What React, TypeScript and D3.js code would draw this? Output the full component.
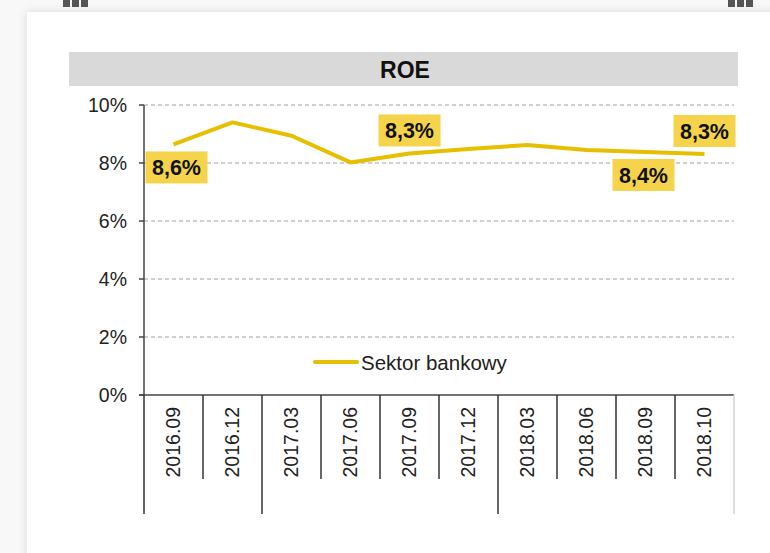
import React from "react";
import * as d3 from "d3";

const categories = [
  "2016.09", "2016.12", "2017.03", "2017.06", "2017.09",
  "2017.12", "2018.03", "2018.06", "2018.09", "2018.10",
];
const roeValues = [8.64, 9.4, 8.94, 8.02, 8.33, 8.48, 8.62, 8.45, 8.38, 8.31];
const yTicks = [0, 2, 4, 6, 8, 10];
// index into categories, label text, above/below the line
const labelIndex = [0, 4, 8, 9];
const labelText = ["8,6%", "8,3%", "8,4%", "8,3%"];
const labelSide = ["below", "above", "below", "above"];
// boundaries where a new year starts (long separators)
const yearStarts = [0, 2, 6];
const seriesName = "Sektor bankowy";
const title = "ROE";

const W = 770;
const H = 553;
const FONT = "Arial, 'Liberation Sans', sans-serif";

const App = () => {
  const left = 144;
  const right = 734;
  const top = 105;
  const bottom = 395;

  const x = d3.scaleBand<string>().domain(categories).range([left, right]).padding(0);
  const y = d3.scaleLinear().domain([0, 10]).range([bottom, top]);

  const line = d3
    .line<number>()
    .x((_, i) => x(categories[i])! + x.bandwidth() / 2)
    .y((d) => y(d));

  const boundaries = categories.map((c) => x(c)!);

  return (
    <svg
      width={W}
      height={H}
      style={{ position: "fixed", left: 0, top: 0 }}
      fontFamily={FONT}
    >
      <defs>
        <filter id="shadow" x="-10%" y="-10%" width="120%" height="120%">
          <feDropShadow dx="0" dy="0" stdDeviation="5" floodColor="#000" floodOpacity="0.12" />
        </filter>
      </defs>
      <rect width={W} height={H} fill="#f8f8f8" />
      {/* binder clips */}
      {[63, 728].map((bx) => (
        <g key={bx}>
          {[0, 9, 18].map((o) => (
            <rect key={o} x={bx + o} y={0} width={7} height={7} fill="#555" />
          ))}
        </g>
      ))}
      <rect x={27} y={12} width={W} height={H} fill="#fff" filter="url(#shadow)" />

      {/* title band */}
      <rect x={69} y={52} width={669} height={34} fill="#d9d9d9" />
      <text x={405} y={78} textAnchor="middle" fontSize={23} fontWeight="bold" fill="#111">
        {title}
      </text>

      {/* gridlines */}
      {yTicks
        .filter((t) => t > 0)
        .map((t) => (
          <line
            key={t}
            x1={left}
            x2={right}
            y1={y(t)}
            y2={y(t)}
            stroke="#a0a0a0"
            strokeWidth={1}
            strokeDasharray="4,3"
          />
        ))}

      {/* y axis */}
      <line x1={left} x2={left} y1={top} y2={bottom} stroke="#444" strokeWidth={1.5} />
      {yTicks.map((t) => (
        <g key={t}>
          <line x1={left - 5} x2={left} y1={y(t)} y2={y(t)} stroke="#444" strokeWidth={1.5} />
          <text x={127} y={y(t) + 7} textAnchor="end" fontSize={19.5} fill="#222">
            {t}%
          </text>
        </g>
      ))}

      {/* x axis */}
      <line x1={left - 5} x2={right} y1={bottom} y2={bottom} stroke="#444" strokeWidth={1.5} />
      {boundaries.map((bx, i) => (
        <line
          key={i}
          x1={bx}
          x2={bx}
          y1={bottom}
          y2={yearStarts.includes(i) ? 514 : 479}
          stroke="#333"
          strokeWidth={1.5}
        />
      ))}
      <line x1={right} x2={right} y1={bottom} y2={514} stroke="#d0d0d0" strokeWidth={1.5} />
      {categories.map((c) => {
        const cx = x(c)! + x.bandwidth() / 2;
        return (
          <text
            key={c}
            transform={`translate(${cx},407) rotate(-90)`}
            textAnchor="end"
            dy="0.35em"
            fontSize={19.5}
            fill="#222"
          >
            {c}
          </text>
        );
      })}

      {/* series */}
      <path d={line(roeValues) ?? ""} fill="none" stroke="#e6bf00" strokeWidth={4} strokeLinejoin="round" />

      {/* data labels */}
      {labelIndex.map((idx, k) => {
        const cx = x(categories[idx])! + x.bandwidth() / 2 + (k === 0 ? 3 : k === 2 ? -2 : 0);
        const cy = y(roeValues[idx]) + (labelSide[k] === "below" ? 23 : -23);
        const bw = 62;
        const bh = 32;
        return (
          <g key={k}>
            <rect x={cx - bw / 2} y={cy - bh / 2} width={bw} height={bh} fill="#f5d44c" />
            <text x={cx} y={cy + 8} textAnchor="middle" fontSize={21.5} fontWeight="bold" fill="#111">
              {labelText[k]}
            </text>
          </g>
        );
      })}

      {/* legend */}
      <line x1={315} x2={357} y1={362} y2={362} stroke="#e6bf00" strokeWidth={4} strokeLinecap="round" />
      <text x={361} y={370} fontSize={20.5} fill="#222">
        {seriesName}
      </text>
    </svg>
  );
};

export default App;
